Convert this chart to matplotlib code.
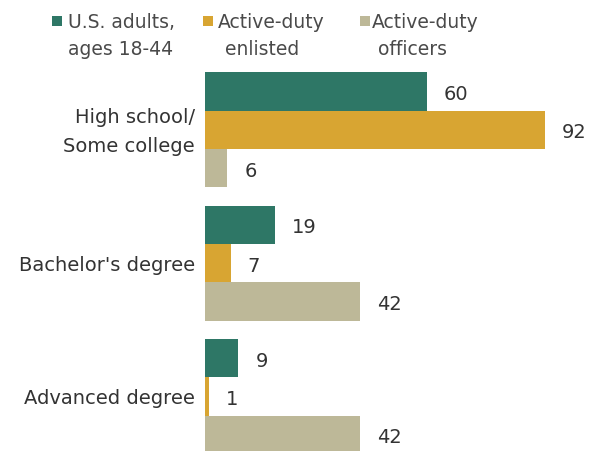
import numpy as np
import matplotlib.pyplot as plt
from matplotlib.patches import Rectangle

categories = [["High school/", "Some college"], ["Bachelor's degree"], ["Advanced degree"]]
series = [["U.S. adults,", "ages 18-44"], ["Active-duty", "enlisted"], ["Active-duty", "officers"]]
us_adults = [60, 19, 9]
enlisted = [92, 7, 1]
officers = [6, 42, 42]

colors = ["#2e7766", "#d8a532", "#bdb898"]
label_color = "#333333"
legend_color = "#4a4a4a"

plt.rcParams['font.family'] = ['DejaVu Sans']

W, H = 592, 452
fig = plt.figure(figsize=(W / 100, H / 100), dpi=100)

# axes placed in pixels: bars start at x=205, ~3.7 px per unit
x0, x1 = 205, 592
y_top = 73.3
px_x = 3.696
px_y = 133.3
h = 0.2875
ymin = -1.5 * h
ymax = ymin + (H - y_top) / px_y
ax = fig.add_axes([x0 / W, 0, (x1 - x0) / W, (H - y_top) / H])

y = np.arange(len(categories))
vals = [us_adults, enlisted, officers]
for k, (v, c) in enumerate(zip(vals, colors)):
    pos = y + (k - 1) * h
    ax.barh(pos, v, height=h, color=c, linewidth=0)
    for p, val in zip(pos, v):
        ax.annotate(str(val), (val, p), xytext=(17, -2), textcoords='offset pixels',
                    va='center', ha='left', fontsize=14, color=label_color)

ax.set_xlim(0, (x1 - x0) / px_x)
ax.set_ylim(ymax, ymin)
ax.axis('off')

# category labels, one text per line
for yi, lines in zip(y, categories):
    n = len(lines)
    for j, line in enumerate(lines):
        dy = -7 - (j - (n - 1) / 2) * 29
        ax.annotate(line, (0, yi), xytext=(-10, dy), textcoords='offset pixels',
                    ha='right', va='baseline', fontsize=14, color=label_color)

# legend, drawn by hand
sq_x = [52, 203, 360]
txt_x = [[68, 68], [218, 225], [372, 378]]
for sx, tx, lines, c in zip(sq_x, txt_x, series, colors):
    fig.patches.append(Rectangle((sx / W, 1 - 27 / H), 10 / W, 10 / H,
                                 transform=fig.transFigure, color=c, linewidth=0))
    for j, line in enumerate(lines):
        fig.text(tx[j] / W, 1 - (28 + 27 * j) / H, line, ha='left', va='baseline',
                 fontsize=13.5, color=legend_color)

fig.savefig("out.png", dpi=100)
